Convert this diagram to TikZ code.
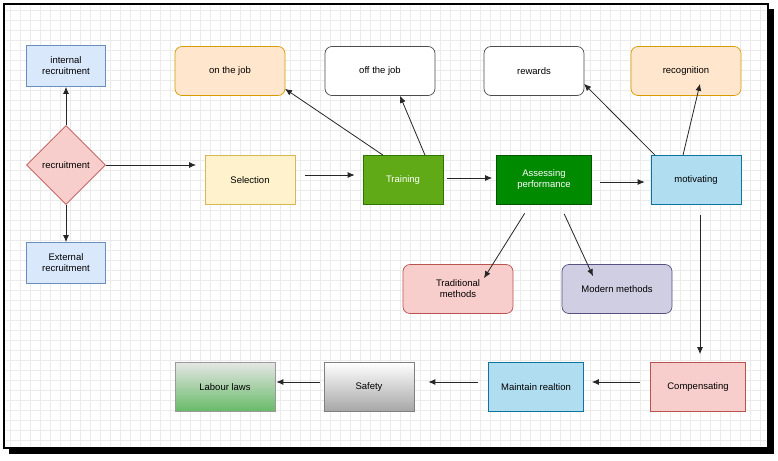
\documentclass[tikz,border=0pt]{standalone}
\usepackage{fontspec}
\setmainfont{Liberation Sans}
\usetikzlibrary{shapes.geometric,arrows.meta}
\definecolor{bfill}{HTML}{DAE8FC}\definecolor{bline}{HTML}{6C8EBF}
\definecolor{rfill}{HTML}{F8CECC}\definecolor{rline}{HTML}{B85450}
\definecolor{yfill}{HTML}{FFF2CC}\definecolor{yline}{HTML}{D6B656}
\definecolor{ofill}{HTML}{FFE6CC}\definecolor{oline}{HTML}{D79B00}
\definecolor{lgfill}{HTML}{60A917}\definecolor{lgline}{HTML}{2D7600}
\definecolor{gfill}{HTML}{008A00}\definecolor{gline}{HTML}{005700}
\definecolor{cfill}{HTML}{B1DDF0}\definecolor{cline}{HTML}{10739E}
\definecolor{pfill}{HTML}{D0CEE2}\definecolor{pline}{HTML}{56517E}
\begin{document}
\begin{tikzpicture}[x=1pt,y=-1pt,
  every node/.style={font=\fontsize{9.5}{11}\selectfont, align=center, inner sep=1pt},
  box/.style={draw, minimum width=#1, line width=0.7pt},
  sq/.style={box=#1, minimum height=49pt},
  rnd/.style={box=#1, minimum height=49pt, rounded corners=7pt},
  arr/.style={-{Latex[length=7pt,width=6pt]}, line width=0.8pt, black!85}]
\useasboundingbox (0,0) rectangle (778,460);
\fill[black] (9,9) rectangle (774,454);
\fill[white] (4,4) rectangle (768,448);
\draw[black, line width=1.5pt] (4,4) rectangle (768,448);
\foreach \x in {10,20,...,760} \draw[black!8, line width=0.3pt] (\x,6) -- (\x,446);
\foreach \y in {10,20,...,440} \draw[black!8, line width=0.3pt] (6,\y) -- (766,\y);

\node[diamond, draw=rline, fill=rfill, minimum width=79pt, minimum height=79pt, inner sep=0pt, line width=0.7pt] (rec) at (66,165) {recruitment};
\node[draw=bline, fill=bfill, box=79pt, minimum height=41pt] (int) at (66,66) {internal\\recruitment};
\node[draw=bline, fill=bfill, box=79pt, minimum height=41pt] (ext) at (66,263) {External\\recruitment};
\node[draw=yline, fill=yfill, sq=90pt] (sel) at (250,180) {Selection};
\node[draw=oline, fill=ofill, rnd=110pt] (onj) at (230,71) {on the job};
\node[draw=black!70, fill=white, rnd=110pt] (offj) at (380,71) {off the job};
\node[draw=lgline, fill=lgfill, sq=80pt, text=white] (tr) at (403,180) {Training};
\node[draw=gline, fill=gfill, sq=95pt, text=white] (as) at (544,180) {Assessing\\performance};
\node[draw=cline, fill=cfill, sq=90pt] (mot) at (696,180) {motivating};
\node[draw=black!70, fill=white, rnd=100pt] (rew) at (534,71) {rewards};
\node[draw=oline, fill=ofill, rnd=110pt] (recg) at (686,71) {recognition};
\node[draw=rline, fill=rfill, rnd=110pt] (trad) at (458,289) {Traditional\\methods};
\node[draw=pline, fill=pfill, rnd=110pt] (mod) at (617,289) {Modern methods};
\node[draw=rline, fill=rfill, sq=95pt] (comp) at (698,387) {Compensating};
\node[draw=cline, fill=cfill, sq=95pt] (mr) at (536,387) {Maintain realtion};
\node[draw=black!50, top color=white, bottom color=black!35, sq=90pt] (saf) at (369,387) {Safety};
\node[draw=black!40, top color=black!10, bottom color=green!55!black!60, sq=100pt] (lab) at (225,387) {Labour laws};

\coordinate (selin) at (196,165);
\draw[arr] (rec.north) -- (int.south);
\draw[arr] (rec.south) -- (ext.north);
\draw[arr] (rec.east) -- (selin);
\draw[arr, shorten >=8pt, shorten <=10pt] (sel.east |- 0,175) -- (tr.west |- 0,175);
\draw[arr] ([xshift=-20pt]tr.north) -- ([shift={(55pt,7pt)}]onj.south);
\draw[arr] ([xshift=22pt]tr.north) -- ([shift={(20pt,0pt)}]offj.south);
\draw[arr, shorten >=4pt, shorten <=4pt] (tr.east |- 0,178) -- (as.west |- 0,178);
\draw[arr, shorten >=6pt, shorten <=8pt] (as.east |- 0,182) -- (mot.west |- 0,182);
\draw[arr] ([xshift=-41pt]mot.north) -- ([shift={(50pt,12pt)}]rew.south);
\draw[arr] ([xshift=-13pt]mot.north) -- ([shift={(14pt,12pt)}]recg.south);
\draw[arr, shorten <=10pt] ([xshift=-14pt]as.south) -- ([shift={(26pt,-14pt)}]trad.north);
\draw[arr, shorten <=10pt] ([xshift=16pt]as.south) -- ([shift={(-24pt,-12pt)}]mod.north);
\draw[arr, shorten <=10pt, shorten >=8pt] ([xshift=4pt]mot.south) -- ([xshift=2pt]comp.north);
\draw[arr, shorten <=10pt, shorten >=8pt] (comp.west |- 0,382) -- (mr.east |- 0,382);
\draw[arr, shorten <=10pt, shorten >=14pt] (mr.west |- 0,382) -- (saf.east |- 0,382);
\draw[arr, shorten <=4pt, shorten >=1pt] (saf.west |- 0,382) -- (lab.east |- 0,382);
\end{tikzpicture}
\end{document}
